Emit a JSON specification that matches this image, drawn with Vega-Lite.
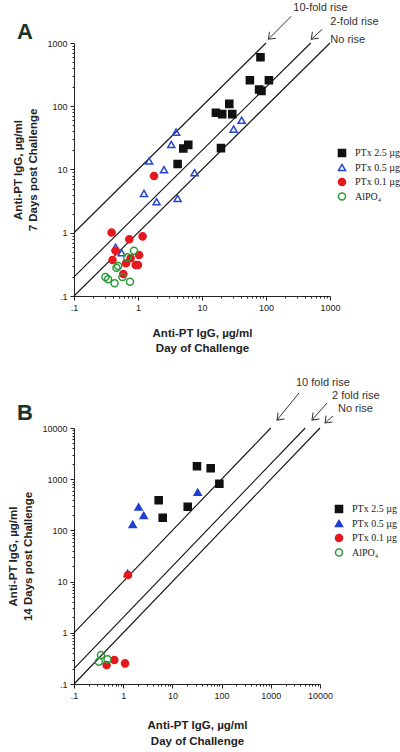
{
  "$schema": "https://vega.github.io/schema/vega-lite/v6.json",
  "padding": {"left": 7, "top": 2, "right": 5, "bottom": 5},
  "spacing": 22,
  "resolve": {"scale": {"shape": "independent", "stroke": "independent", "fill": "independent"}, "legend": {"shape": "independent", "stroke": "independent", "fill": "independent"}},
  "config": {
    "view": {"stroke": null},
    "font": "Liberation Sans",
    "axis": {"grid": false, "domainColor": "#222", "tickColor": "#222", "labelColor": "#222", "labelFont": "Liberation Sans", "labelFontSize": 9, "titleFont": "Liberation Sans", "titleFontSize": 11.5, "titleFontWeight": "bold", "titleColor": "#222", "labelFlush": false, "labelOverlap": false, "domainWidth": 1, "tickWidth": 1},
    "legend": {"labelFont": "Liberation Serif", "labelFontSize": 10, "labelColor": "#222", "symbolSize": 50, "symbolStrokeWidth": 1.5, "rowPadding": 0.5, "labelOffset": 8, "padding": 0}
  },
  "vconcat": [
    {
      "width": 256,
      "height": 253,
      "title": {"text": "A", "anchor": "start", "frame": "group", "dx": -57, "dy": 46, "fontSize": 22, "fontWeight": "bold", "color": "#1b3326", "font": "Liberation Sans"},
      "resolve": {"axis": {"x": "independent", "y": "independent"}},
      "layer": [
        {
          "data": {"values": [
            {"x": 0.1, "y": 0.1, "x2": 1000, "y2": 1000},
            {"x": 0.1, "y": 0.2, "x2": 500, "y2": 1000},
            {"x": 0.1, "y": 1, "x2": 100, "y2": 1000}
          ]},
          "mark": {"type": "rule", "color": "#111", "strokeWidth": 1.1},
          "encoding": {
            "x": {"field": "x", "type": "quantitative", "scale": {"type": "log", "domain": [0.1, 1000], "nice": false},
              "axis": {"orient": "bottom", "values": [0.2,0.3,0.4,0.5,0.6,0.7,0.8,0.9,2,3,4,5,6,7,8,9,20,30,40,50,60,70,80,90,200,300,400,500,600,700,800,900], "labels": false, "domain": false, "tickSize": 2, "title": null}},
            "y": {"field": "y", "type": "quantitative", "scale": {"type": "log", "domain": [0.1, 1000], "nice": false},
              "axis": {"orient": "left", "values": [0.2,0.3,0.4,0.5,0.6,0.7,0.8,0.9,2,3,4,5,6,7,8,9,20,30,40,50,60,70,80,90,200,300,400,500,600,700,800,900], "labels": false, "domain": false, "tickSize": 2, "title": null}},
            "x2": {"field": "x2"},
            "y2": {"field": "y2"}
          }
        },
        {
          "data": {"values": [
            {"x": 248, "y": 2650, "x2": 109, "y2": 1148},
            {"x": 759, "y": 1652, "x2": 511, "y2": 1148}
          ]},
          "mark": {"type": "rule", "color": "#333", "strokeWidth": 1},
          "encoding": {
            "x": {"field": "x", "type": "quantitative", "scale": {"type": "log", "domain": [0.1, 1000], "nice": false}, "axis": null},
            "y": {"field": "y", "type": "quantitative", "scale": {"type": "log", "domain": [0.1, 1000], "nice": false}, "axis": null},
            "x2": {"field": "x2"},
            "y2": {"field": "y2"}
          }
        },
        {
          "data": {"values": [
            {"x": 109, "y": 1148},
            {"x": 511, "y": 1148}
          ]},
          "mark": {"type": "point", "shape": "M-1,-0.75L0,0L-1,0.75", "filled": false, "stroke": "#333", "strokeWidth": 1, "size": 144, "angle": 135, "opacity": 1},
          "encoding": {
            "x": {"field": "x", "type": "quantitative", "scale": {"type": "log", "domain": [0.1, 1000], "nice": false}, "axis": null},
            "y": {"field": "y", "type": "quantitative", "scale": {"type": "log", "domain": [0.1, 1000], "nice": false}, "axis": null}
          }
        },
        {
          "data": {"values": [
            {"t": "10-fold rise", "x": 267, "y": 3548},
            {"t": "2-fold rise", "x": 1012, "y": 2133},
            {"t": "No rise", "x": 1012, "y": 1107}
          ]},
          "mark": {"type": "text", "align": "left", "baseline": "middle", "font": "Liberation Sans", "fontSize": 11, "color": "#333"},
          "encoding": {
            "x": {"field": "x", "type": "quantitative", "scale": {"type": "log", "domain": [0.1, 1000], "nice": false}, "axis": null},
            "y": {"field": "y", "type": "quantitative", "scale": {"type": "log", "domain": [0.1, 1000], "nice": false}, "axis": null},
            "text": {"field": "t"}
          }
        },
        {
          "data": {"values": [
            {"g": "PTx 2.5 µg", "x": 82, "y": 597},
            {"g": "PTx 2.5 µg", "x": 56, "y": 257},
            {"g": "PTx 2.5 µg", "x": 111, "y": 257},
            {"g": "PTx 2.5 µg", "x": 78, "y": 184},
            {"g": "PTx 2.5 µg", "x": 85, "y": 175},
            {"g": "PTx 2.5 µg", "x": 26.7, "y": 109},
            {"g": "PTx 2.5 µg", "x": 16.5, "y": 78.7},
            {"g": "PTx 2.5 µg", "x": 20.7, "y": 75},
            {"g": "PTx 2.5 µg", "x": 29.7, "y": 75},
            {"g": "PTx 2.5 µg", "x": 5.1, "y": 21.5},
            {"g": "PTx 2.5 µg", "x": 6.1, "y": 24.5},
            {"g": "PTx 2.5 µg", "x": 4.16, "y": 12.2},
            {"g": "PTx 2.5 µg", "x": 19.8, "y": 21.8},
            {"g": "PTx 0.5 µg", "x": 3.93, "y": 39},
            {"g": "PTx 0.5 µg", "x": 3.31, "y": 24.9},
            {"g": "PTx 0.5 µg", "x": 1.49, "y": 13.6},
            {"g": "PTx 0.5 µg", "x": 2.55, "y": 9.9},
            {"g": "PTx 0.5 µg", "x": 41.6, "y": 60},
            {"g": "PTx 0.5 µg", "x": 31.2, "y": 43.5},
            {"g": "PTx 0.5 µg", "x": 7.65, "y": 8.9},
            {"g": "PTx 0.5 µg", "x": 1.24, "y": 4.19},
            {"g": "PTx 0.5 µg", "x": 1.95, "y": 3.09},
            {"g": "PTx 0.5 µg", "x": 4.16, "y": 3.49},
            {"g": "PTx 0.5 µg", "x": 0.447, "y": 0.589},
            {"g": "PTx 0.5 µg", "x": 0.554, "y": 0.483},
            {"g": "PTx 0.1 µg", "x": 1.78, "y": 7.87},
            {"g": "PTx 0.1 µg", "x": 0.387, "y": 1.01},
            {"g": "PTx 0.1 µg", "x": 1.18, "y": 0.877},
            {"g": "PTx 0.1 µg", "x": 0.73, "y": 0.787},
            {"g": "PTx 0.1 µg", "x": 0.447, "y": 0.52},
            {"g": "PTx 0.1 µg", "x": 0.4, "y": 0.37},
            {"g": "PTx 0.1 µg", "x": 1.04, "y": 0.445},
            {"g": "PTx 0.1 µg", "x": 0.766, "y": 0.394},
            {"g": "PTx 0.1 µg", "x": 0.65, "y": 0.329},
            {"g": "PTx 0.1 µg", "x": 0.92, "y": 0.309},
            {"g": "PTx 0.1 µg", "x": 1.0, "y": 0.309},
            {"g": "PTx 0.1 µg", "x": 0.59, "y": 0.223},
            {"g": "AlPO₄", "x": 0.866, "y": 0.52},
            {"g": "AlPO₄", "x": 0.68, "y": 0.408},
            {"g": "AlPO₄", "x": 0.49, "y": 0.298},
            {"g": "AlPO₄", "x": 0.46, "y": 0.28},
            {"g": "AlPO₄", "x": 0.57, "y": 0.2},
            {"g": "AlPO₄", "x": 0.31, "y": 0.2},
            {"g": "AlPO₄", "x": 0.34, "y": 0.184},
            {"g": "AlPO₄", "x": 0.43, "y": 0.159},
            {"g": "AlPO₄", "x": 0.75, "y": 0.168}
          ]},
          "mark": {"type": "point", "size": 50, "strokeWidth": 1.5, "opacity": 1},
          "encoding": {
            "x": {"field": "x", "type": "quantitative", "scale": {"type": "log", "domain": [0.1, 1000], "nice": false},
              "axis": {"orient": "bottom", "values": [0.1, 1, 10, 100, 1000], "labelExpr": "datum.value < 1 ? '.1' : format(datum.value, 'd')", "title": ["Anti-PT IgG, µg/ml", "Day of Challenge"], "tickSize": 4, "labelPadding": 3, "titlePadding": 15, "titleLineHeight": 15}},
            "y": {"field": "y", "type": "quantitative", "scale": {"type": "log", "domain": [0.1, 1000], "nice": false},
              "axis": {"orient": "left", "values": [0.1, 1, 10, 100, 1000], "labelExpr": "datum.value < 1 ? '.1' : format(datum.value, 'd')", "title": ["Anti-PT IgG, µg/ml", "7 Days post Challenge"], "tickSize": 4, "labelPadding": 3, "titlePadding": 8, "titleLineHeight": 15}},
            "shape": {"field": "g", "type": "nominal", "scale": {"domain": ["PTx 2.5 µg", "PTx 0.5 µg", "PTx 0.1 µg", "AlPO₄"], "range": ["square", "triangle-up", "circle", "circle"]}, "legend": {"title": null, "orient": "none", "legendX": 263, "legendY": 105}},
            "stroke": {"field": "g", "type": "nominal", "scale": {"domain": ["PTx 2.5 µg", "PTx 0.5 µg", "PTx 0.1 µg", "AlPO₄"], "range": ["#111111", "#2346d4", "#e5191e", "#2a9a38"]}, "legend": {"title": null, "orient": "none", "legendX": 263, "legendY": 105}},
            "fill": {"field": "g", "type": "nominal", "scale": {"domain": ["PTx 2.5 µg", "PTx 0.5 µg", "PTx 0.1 µg", "AlPO₄"], "range": ["#111111", "transparent", "#e5191e", "transparent"]}, "legend": {"title": null, "orient": "none", "legendX": 263, "legendY": 105}}
          }
        }
      ]
    },
    {
      "width": 246,
      "height": 256,
      "title": {"text": "B", "anchor": "start", "frame": "group", "dx": -57, "dy": 52, "fontSize": 22, "fontWeight": "bold", "color": "#1b3326", "font": "Liberation Sans"},
      "resolve": {"axis": {"x": "independent", "y": "independent"}},
      "layer": [
        {
          "data": {"values": [
            {"x": 0.1, "y": 0.1, "x2": 10000, "y2": 10000},
            {"x": 0.1, "y": 0.2, "x2": 5000, "y2": 10000},
            {"x": 0.1, "y": 1, "x2": 1000, "y2": 10000}
          ]},
          "mark": {"type": "rule", "color": "#111", "strokeWidth": 1.1},
          "encoding": {
            "x": {"field": "x", "type": "quantitative", "scale": {"type": "log", "domain": [0.1, 10000], "nice": false},
              "axis": {"orient": "bottom", "values": [0.2,0.3,0.4,0.5,0.6,0.7,0.8,0.9,2,3,4,5,6,7,8,9,20,30,40,50,60,70,80,90,200,300,400,500,600,700,800,900,2000,3000,4000,5000,6000,7000,8000,9000], "labels": false, "domain": false, "tickSize": 2, "title": null}},
            "y": {"field": "y", "type": "quantitative", "scale": {"type": "log", "domain": [0.1, 10000], "nice": false},
              "axis": {"orient": "left", "values": [0.2,0.3,0.4,0.5,0.6,0.7,0.8,0.9,2,3,4,5,6,7,8,9,20,30,40,50,60,70,80,90,200,300,400,500,600,700,800,900,2000,3000,4000,5000,6000,7000,8000,9000], "labels": false, "domain": false, "tickSize": 2, "title": null}},
            "x2": {"field": "x2"},
            "y2": {"field": "y2"}
          }
        },
        {
          "data": {"values": [
            {"x": 3740, "y": 48300, "x2": 1337, "y2": 14300},
            {"x": 13870, "y": 30760, "x2": 6870, "y2": 14300},
            {"x": 18370, "y": 17140, "x2": 12650, "y2": 12530}
          ]},
          "mark": {"type": "rule", "color": "#333", "strokeWidth": 1},
          "encoding": {
            "x": {"field": "x", "type": "quantitative", "scale": {"type": "log", "domain": [0.1, 10000], "nice": false}, "axis": null},
            "y": {"field": "y", "type": "quantitative", "scale": {"type": "log", "domain": [0.1, 10000], "nice": false}, "axis": null},
            "x2": {"field": "x2"},
            "y2": {"field": "y2"}
          }
        },
        {
          "data": {"values": [
            {"x": 1337, "y": 14300},
            {"x": 6870, "y": 14300},
            {"x": 12650, "y": 12530}
          ]},
          "mark": {"type": "point", "shape": "M-1,-0.75L0,0L-1,0.75", "filled": false, "stroke": "#333", "strokeWidth": 1, "size": 144, "angle": 135, "opacity": 1},
          "encoding": {
            "x": {"field": "x", "type": "quantitative", "scale": {"type": "log", "domain": [0.1, 10000], "nice": false}, "axis": null},
            "y": {"field": "y", "type": "quantitative", "scale": {"type": "log", "domain": [0.1, 10000], "nice": false}, "axis": null}
          }
        },
        {
          "data": {"values": [
            {"t": "10 fold rise", "x": 3250, "y": 75700},
            {"t": "2 fold rise", "x": 17500, "y": 42200},
            {"t": "No rise", "x": 23200, "y": 23500}
          ]},
          "mark": {"type": "text", "align": "left", "baseline": "middle", "font": "Liberation Sans", "fontSize": 11, "color": "#333"},
          "encoding": {
            "x": {"field": "x", "type": "quantitative", "scale": {"type": "log", "domain": [0.1, 10000], "nice": false}, "axis": null},
            "y": {"field": "y", "type": "quantitative", "scale": {"type": "log", "domain": [0.1, 10000], "nice": false}, "axis": null},
            "text": {"field": "t"}
          }
        },
        {
          "data": {"values": [
            {"g": "PTx 2.5 µg", "x": 31.6, "y": 1786},
            {"g": "PTx 2.5 µg", "x": 60, "y": 1633},
            {"g": "PTx 2.5 µg", "x": 90, "y": 816},
            {"g": "PTx 2.5 µg", "x": 5.26, "y": 387},
            {"g": "PTx 2.5 µg", "x": 20.5, "y": 290},
            {"g": "PTx 2.5 µg", "x": 6.35, "y": 177},
            {"g": "PTx 0.5 µg", "x": 32.7, "y": 555},
            {"g": "PTx 0.5 µg", "x": 2.06, "y": 286},
            {"g": "PTx 0.5 µg", "x": 2.61, "y": 197},
            {"g": "PTx 0.5 µg", "x": 1.56, "y": 131},
            {"g": "PTx 0.5 µg", "x": 1.23, "y": 14.5},
            {"g": "PTx 0.1 µg", "x": 1.25, "y": 13.5},
            {"g": "PTx 0.1 µg", "x": 0.46, "y": 0.235},
            {"g": "PTx 0.1 µg", "x": 0.66, "y": 0.294},
            {"g": "PTx 0.1 µg", "x": 1.09, "y": 0.253},
            {"g": "AlPO₄", "x": 0.354, "y": 0.368},
            {"g": "AlPO₄", "x": 0.32, "y": 0.273},
            {"g": "AlPO₄", "x": 0.48, "y": 0.303}
          ]},
          "mark": {"type": "point", "size": 50, "strokeWidth": 1.5, "opacity": 1},
          "encoding": {
            "x": {"field": "x", "type": "quantitative", "scale": {"type": "log", "domain": [0.1, 10000], "nice": false},
              "axis": {"orient": "bottom", "values": [0.1, 1, 10, 100, 1000, 10000], "labelExpr": "datum.value < 1 ? '.1' : format(datum.value, 'd')", "title": ["Anti-PT IgG, µg/ml", "Day of Challenge"], "tickSize": 4, "labelPadding": 3, "titlePadding": 19, "titleLineHeight": 16}},
            "y": {"field": "y", "type": "quantitative", "scale": {"type": "log", "domain": [0.1, 10000], "nice": false},
              "axis": {"orient": "left", "values": [0.1, 1, 10, 100, 1000, 10000], "labelExpr": "datum.value < 1 ? '.1' : format(datum.value, 'd')", "title": ["Anti-PT IgG, µg/ml", "14 Days post Challenge"], "tickSize": 4, "labelPadding": 3, "titlePadding": 8, "titleLineHeight": 15}},
            "shape": {"field": "g", "type": "nominal", "scale": {"domain": ["PTx 2.5 µg", "PTx 0.5 µg", "PTx 0.1 µg", "AlPO₄"], "range": ["square", "triangle-up", "circle", "circle"]}, "legend": {"title": null, "orient": "none", "legendX": 260, "legendY": 76}},
            "stroke": {"field": "g", "type": "nominal", "scale": {"domain": ["PTx 2.5 µg", "PTx 0.5 µg", "PTx 0.1 µg", "AlPO₄"], "range": ["#111111", "#1f3fd0", "#e5191e", "#2a9a38"]}, "legend": {"title": null, "orient": "none", "legendX": 260, "legendY": 76}},
            "fill": {"field": "g", "type": "nominal", "scale": {"domain": ["PTx 2.5 µg", "PTx 0.5 µg", "PTx 0.1 µg", "AlPO₄"], "range": ["#111111", "#1f3fd0", "#e5191e", "transparent"]}, "legend": {"title": null, "orient": "none", "legendX": 260, "legendY": 76}}
          }
        }
      ]
    }
  ]
}
